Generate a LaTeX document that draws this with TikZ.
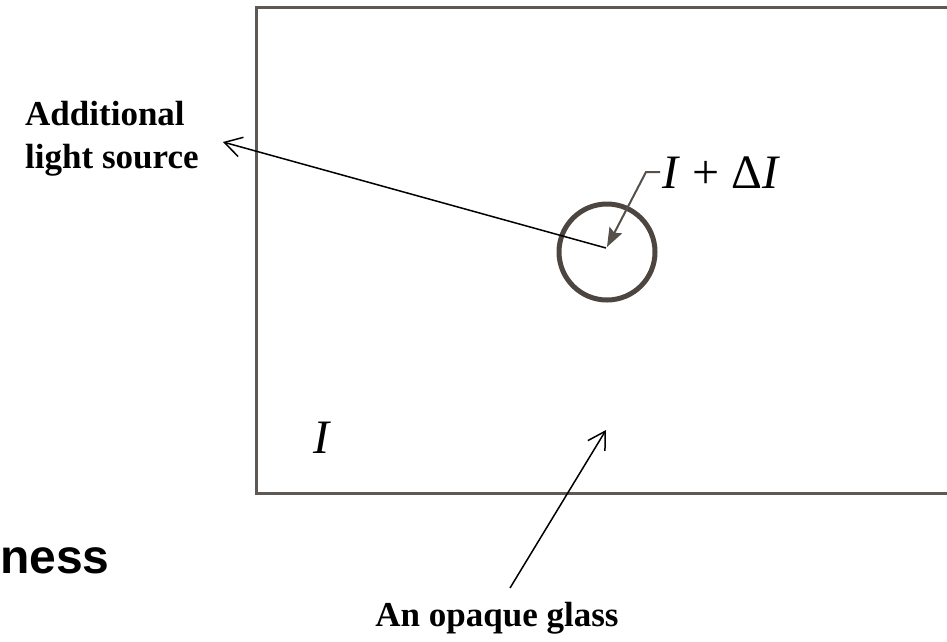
\documentclass[tikz,border=0pt]{standalone}
\usepackage{fontspec}
\setmainfont{Liberation Serif}
\newfontfamily\arialfont{Liberation Sans}
\usetikzlibrary{arrows.meta}
\definecolor{framegray}{HTML}{5E5955}
\definecolor{ringgray}{HTML}{4D4640}
\definecolor{leadgray}{HTML}{55504A}
\begin{document}
\begin{tikzpicture}[x=1pt,y=-1pt,
  frame/.style={draw=framegray, line width=3pt},
  ring/.style={draw=ringgray, line width=5pt},
  pointer/.style={draw=black, line width=1.5pt, -{Straight Barb[length=17pt,width=20pt,line width=1.5pt]}},
  dleader/.style={draw=leadgray, line width=2pt, -{Stealth[length=19pt,width=14pt,inset=3pt]}},
  boldlabel/.style={font=\fontsize{35}{43}\selectfont\bfseries, inner sep=0pt},
  mathlabel/.style={font=\fontsize{48}{56}\selectfont, inner sep=2pt},
  cutlabel/.style={font=\arialfont\fontsize{48}{56}\selectfont\bfseries, inner sep=0pt}]
\useasboundingbox (0,0) rectangle (947,641);
\clip (0,0) rectangle (947,641);
% opaque glass plate
\draw[frame] (256,7) rectangle (970,493);
% spot of additional light
\node[ring, circle, minimum size=96pt, inner sep=0pt] (spot) at (607,252) {};
\coordinate (spotc) at (606,248);
\coordinate (dtip) at (607,247);
\coordinate (dknee) at (646,172);
% labels
\node[boldlabel, align=left, anchor=base west] (src) at (25,168) {Additional\\light source};
\coordinate (srctip) at (223,142);
\node[mathlabel, anchor=base west] (dlabel) at (660,188) {\textit{I} + Δ\textit{I}};
\node[mathlabel, anchor=base west, inner sep=0pt] (ilabel) at (313,453) {\textit{I}};
\node[boldlabel, anchor=base] (glass) at (497,626) {An opaque glass};
\coordinate (glasstail) at (510,588);
\coordinate (glasstip) at (606,430);
\node[cutlabel, anchor=base west] (ness) at (0,573) {ness};
% connectors
\draw[pointer] (spotc) -- (srctip);
\draw[pointer] (glasstail) -- (glasstip);
\draw[dleader] (dlabel.west) -- (dknee) -- (dtip);
\end{tikzpicture}
\end{document}
